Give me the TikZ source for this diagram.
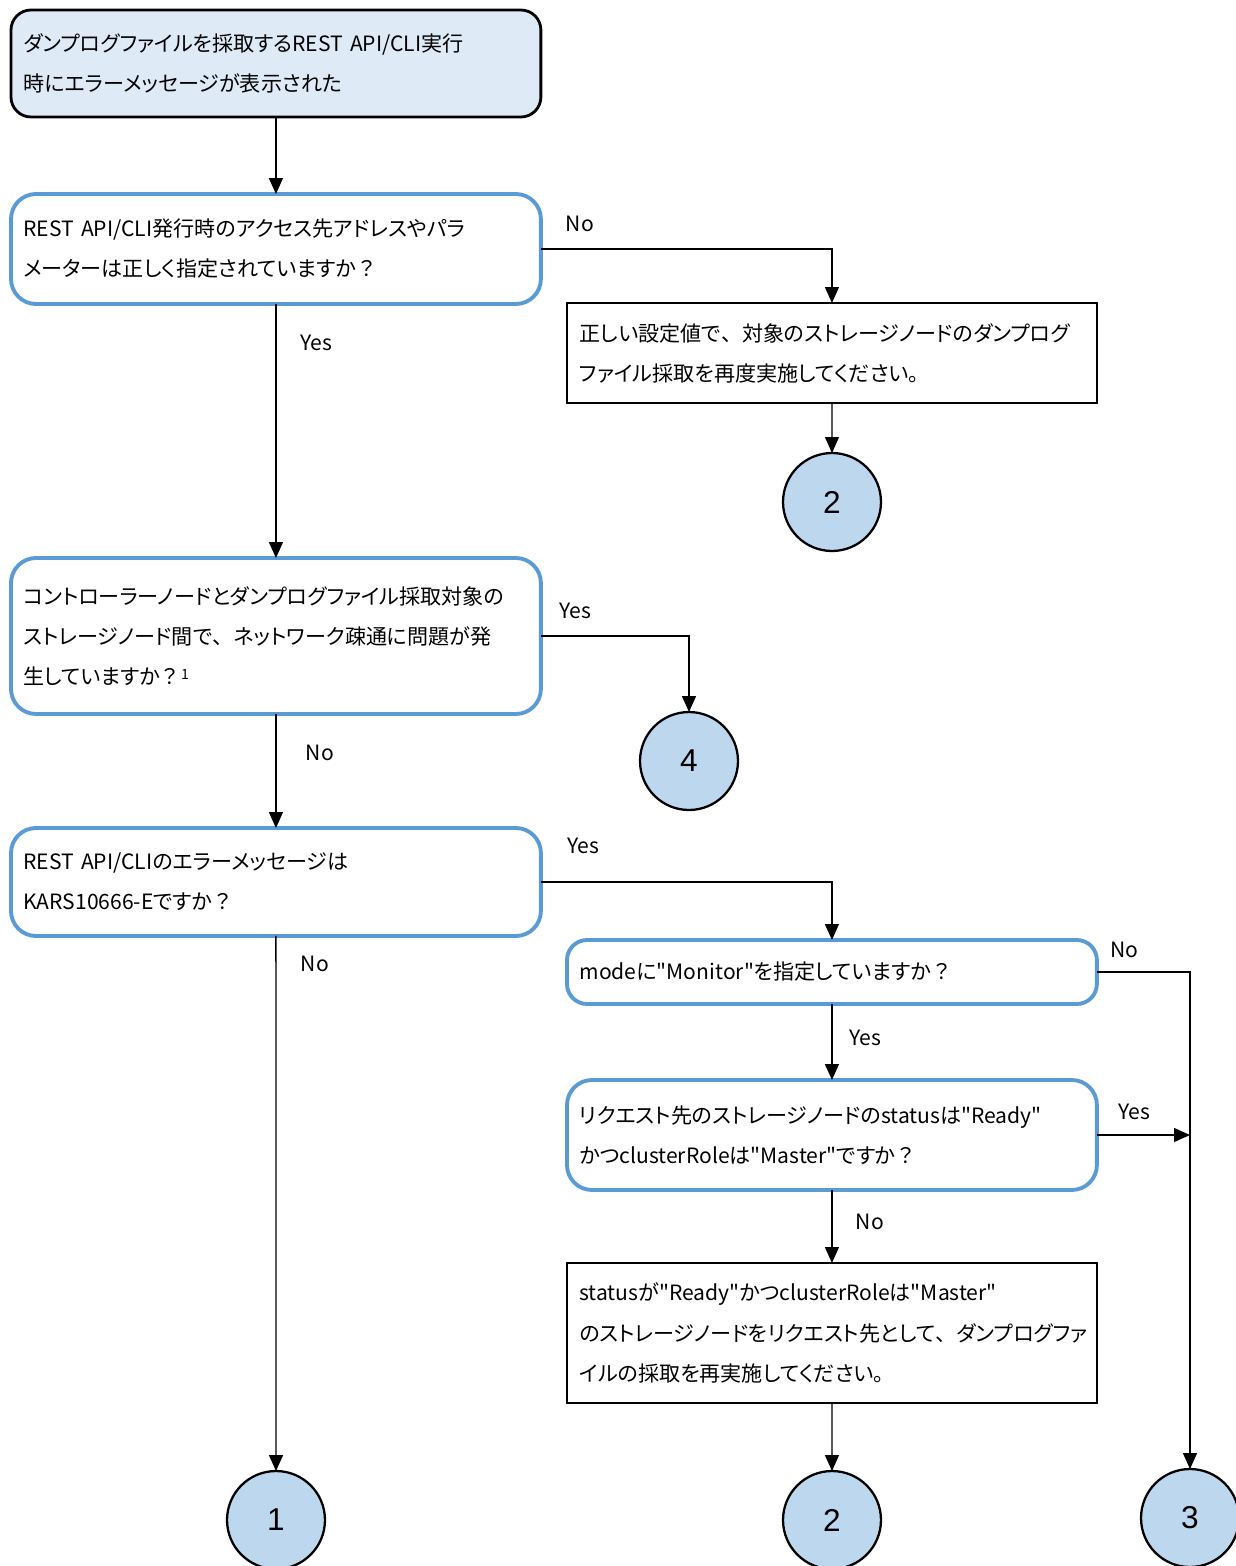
\documentclass[tikz,border=0pt]{standalone}
\usepackage{fontspec}
\setmainfont{Noto Sans CJK JP}[Ligatures=TeXOff, RawFeature=+palt]
\newfontfamily\fwfont{Noto Sans CJK JP}[Ligatures=TeXOff]
\newfontfamily\digitfont{Liberation Sans}
\newcommand\fullw[1]{{\fwfont #1}}
\usetikzlibrary{positioning,arrows.meta}

\definecolor{startfill}{HTML}{DEEBF7}
\definecolor{qblue}{HTML}{5B9BD5}
\definecolor{circfill}{HTML}{BDD7EE}

\tikzset{
  box/.style={anchor=north west, align=left, inner xsep=0.25cm, inner ysep=0pt, outer sep=0pt,
    text width=10.1cm, minimum width=10.6cm},
  startbox/.style={box, draw=black, line width=1.6pt, fill=startfill, rounded corners=0.4cm},
  question/.style={box, draw=qblue, line width=2.2pt, fill=white, rounded corners=0.5cm},
  action/.style={box, draw=black, line width=1.3pt, fill=white},
  jump/.style={circle, draw=black, line width=1.3pt, fill=circfill, minimum size=1.96cm,
    inner sep=0pt, outer sep=0pt, font=\digitfont\fontsize{18}{20}\selectfont},
  flow/.style={draw, line width=0.8pt, -{Triangle[width=0.28cm,length=0.32cm]}},
  answer/.style={inner sep=0pt}
}

\begin{document}
\begin{tikzpicture}[x=0.02cm, y=-0.02cm, font=\fontsize{12}{22.8}\selectfont]
  \useasboundingbox (0,0) rectangle (1235,1566);

  \node (start) [startbox, minimum height=2.14cm] at (11,10)
    {ダンプログファイルを採取するREST API/CLI実行\\時にエラーメッセージが表示された};
  \node (q-addr) [question, minimum height=2.2cm] at (11,194)
    {REST API/CLI発行時のアクセス先アドレスやパラ\\メーターは正しく指定されていますか\fullw{？}};
  \node (act-retry) [action, minimum height=2.0cm] at (567,303)
    {正しい設定値で\fullw{、}対象のストレージノードのダンプログ\\ファイル採取を再度実施してください\fullw{。}};
  \node (q-net) [question, minimum height=3.12cm] at (11,558)
    {コントローラーノードとダンプログファイル採取対象の\\ストレージノード間で\fullw{、}ネットワーク疎通に問題が発\\生していますか\fullw{？}\raisebox{0.4ex}{\fontsize{8}{9}\selectfont 1}};
  \node (q-msg) [question, minimum height=2.16cm] at (11,828)
    {REST API/CLIのエラーメッセージは\\KARS10666-Eですか\fullw{？}};
  \node (q-mode) [question, minimum height=1.28cm, rounded corners=0.4cm] at (567,940)
    {modeに"Monitor"を指定していますか\fullw{？}};
  \node (q-status) [question, minimum height=2.2cm] at (567,1080)
    {リクエスト先のストレージノードのstatusは"Ready"\\かつclusterRoleは"Master"ですか\fullw{？}};
  \node (act-master) [action, minimum height=2.8cm] at (567,1263)
    {statusが"Ready"かつclusterRoleは"Master"\\のストレージノードをリクエスト先として\fullw{、}ダンプログファ\\イルの採取を再実施してください\fullw{。}};

  \node (jump-2a) [jump] at (832,502) {2};
  \node (jump-4) [jump] at (689,761) {4};
  \node (jump-1) [jump] at (276,1520) {1};
  \node (jump-2b) [jump] at (832,1520) {2};
  \node (jump-3) [jump] at (1190,1518) {3};

  \draw[flow] (start.south) -- (q-addr.north);
  \draw[flow] (q-addr.east) -| (act-retry.north);
  \draw[flow] (q-addr.south) -- (q-net.north);
  \draw[flow] (act-retry.south) -- (jump-2a.north);
  \draw[flow] (q-net.east) -| (jump-4.north);
  \draw[flow] (q-net.south) -- (q-msg.north);
  \draw[flow] (q-msg.east) -| (q-mode.north);
  \draw[flow] (q-msg.south) -- (jump-1.north);
  \draw[flow] (q-mode.east) -| (jump-3.north);
  \draw[flow] (q-mode.south) -- (q-status.north);
  \draw[flow] (q-status.east) -- (q-status.east -| jump-3.north);
  \draw[flow] (q-status.south) -- (act-master.north);
  \draw[flow] (act-master.south) -- (jump-2b.north);

  \node (no-addr) [answer] at (580,224) {No};
  \node (yes-addr) [answer] at (316,343) {Yes};
  \node (yes-net) [answer] at (575,611) {Yes};
  \node (no-net) [answer] at (320,753) {No};
  \node (yes-msg) [answer] at (583,846) {Yes};
  \node (no-msg) [answer] at (315,964) {No};
  \node (no-mode) [answer] at (1124,950) {No};
  \node (yes-mode) [answer] at (865,1038) {Yes};
  \node (yes-status) [answer] at (1134,1112) {Yes};
  \node (no-status) [answer] at (870,1222) {No};
\end{tikzpicture}
\end{document}
